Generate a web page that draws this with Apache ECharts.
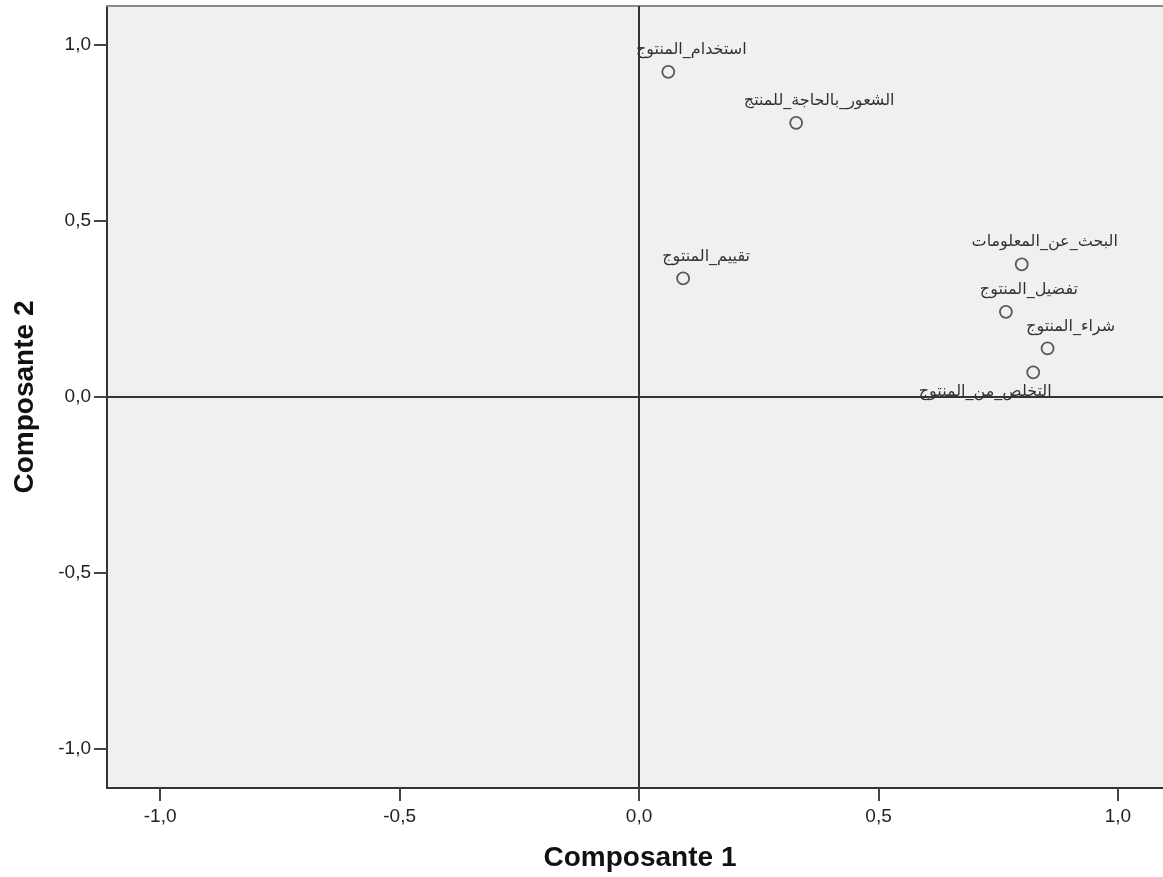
<!DOCTYPE html>
<html>
<head>
<meta charset="utf-8">
<script src="https://cdn.jsdelivr.net/npm/echarts@6/dist/echarts.min.js"></script>
<style>html,body{margin:0;padding:0;background:#fff}#c{width:1163px;height:877px}</style>
</head>
<body>
<div id="c"></div>
<script>
const names = ['استخدام_المنتوج','الشعور_بالحاجة_للمنتج','تقييم_المنتوج','البحث_عن_المعلومات','تفضيل_المنتوج','شراء_المنتوج','التخلص_من_المنتوج'];
const comp1 = [0.061, 0.328, 0.092, 0.799, 0.766, 0.853, 0.823];
const comp2 = [0.924, 0.779, 0.337, 0.377, 0.242, 0.138, 0.070];
const tickValues = [-1, -0.5, 0, 0.5, 1];
const xTitle = 'Composante 1';
const yTitle = 'Composante 2';

const fmt = v => (Math.round(v*10)/10).toFixed(1).replace('.', ',');
const data = names.map((n, i) => {
  const item = { name: n, value: [comp1[i], comp2[i]] };
  if (n === 'التخلص_من_المنتوج') item.label = { offset: [-48, 19] };
  return item;
});

const axisFont = 'Liberation Sans, Arial, sans-serif';
const axisCommon = {
  type: 'value',
  splitLine: { show: false },
  axisLine: { show: true, onZero: false, lineStyle: { color: '#333', width: 2 } },
  axisTick: { show: true, customValues: tickValues, length: 13, lineStyle: { color: '#444', width: 2 } },
  axisLabel: { customValues: tickValues, formatter: fmt, color: '#222', fontSize: 19, fontFamily: axisFont, margin: 16 },
  nameLocation: 'middle',
  nameTextStyle: { fontSize: 28, fontWeight: 'bold', color: '#111', fontFamily: axisFont }
};

const chart = echarts.init(document.getElementById('c'), null, { renderer: 'canvas' });
chart.setOption({
  animation: false,
  backgroundColor: '#fff',
  grid: { left: 107, right: 0, top: 6, bottom: 87, show: true, backgroundColor: '#f0f0f0', borderWidth: 0 },
  xAxis: [
    Object.assign({}, axisCommon, {
      min: -1.111, max: 1.094, name: xTitle, nameGap: 56, position: 'bottom',
      axisLabel: Object.assign({}, axisCommon.axisLabel, { margin: 19 }),
      nameTextStyle: Object.assign({}, axisCommon.nameTextStyle, { padding: [0, 0, 0, 10] })
    }),
    { type: 'value', min: -1.111, max: 1.094, position: 'top', axisLine: { show: true, onZero: false, lineStyle: { color: '#8a8a8a', width: 2 } }, axisTick: { show: false }, axisLabel: { show: false }, splitLine: { show: false } }
  ],
  yAxis: Object.assign({}, axisCommon, { min: -1.111, max: 1.111, name: yTitle, nameGap: 68 }),
  series: [{
    type: 'scatter',
    data: data,
    symbol: 'circle',
    symbolSize: 12,
    itemStyle: { color: '#f0f0f0', borderColor: '#333', borderWidth: 1.8 },
    label: {
      show: true, position: 'inside', offset: [23, -22],
      formatter: p => p.name, color: '#000', fontSize: 16,
      fontFamily: 'DejaVu Sans, sans-serif'
    },
    markLine: {
      silent: true, symbol: 'none', animation: false,
      label: { show: false },
      lineStyle: { color: '#333', width: 2, type: 'solid' },
      data: [{ xAxis: 0 }, { yAxis: 0 }]
    },
    z: 3
  }]
});
</script>
</body>
</html>
